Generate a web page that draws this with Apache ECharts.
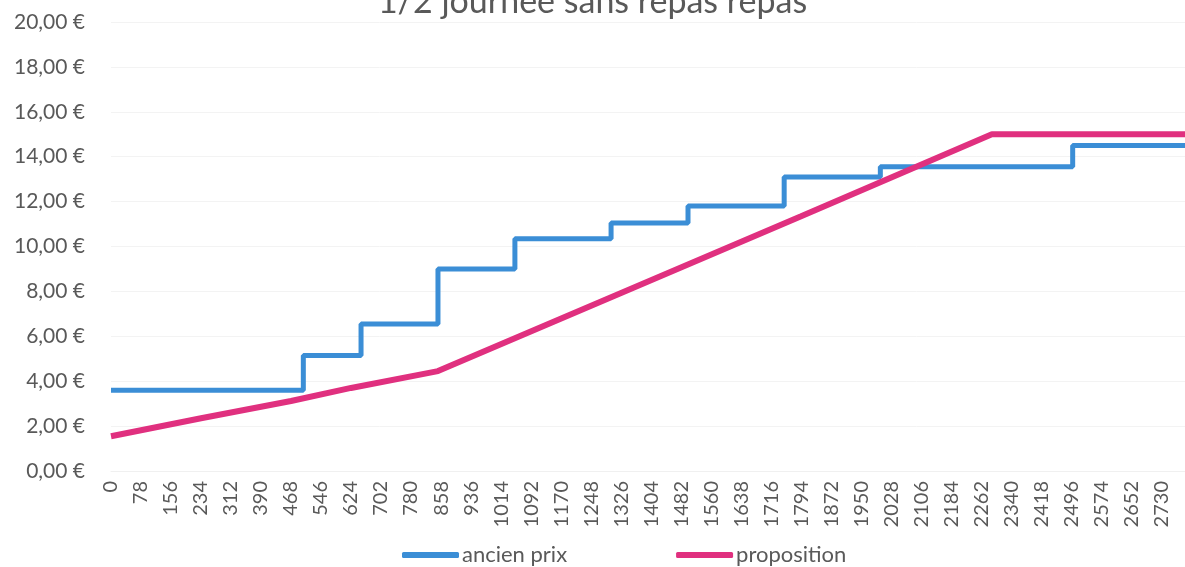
<!DOCTYPE html>
<html>
<head>
<meta charset="utf-8">
<script src="https://cdn.jsdelivr.net/npm/echarts@6/dist/echarts.min.js"></script>
<style>
  html, body { margin: 0; padding: 0; background: #fff; }
  #myChart { width: 1185px; height: 567px; }
</style>
</head>
<body>
<div id="myChart"></div>
<script>
  // ancien prix : paliers (x = début du palier)
  var ancienX = [0, 500, 650, 850, 1050, 1300, 1500, 1750, 2000, 2500, 2808];
  var ancienY = [3.60, 5.15, 6.55, 9.00, 10.35, 11.05, 11.80, 13.10, 13.55, 14.50, 14.50];
  // proposition : points de la courbe
  var propX = [0, 234, 468, 624, 850, 1326, 1794, 2290, 2808];
  var propY = [1.55, 2.35, 3.12, 3.70, 4.45, 7.93, 11.35, 15.00, 15.00];
  var xTickStep = 78;
  var yTicks = [0, 20, 2];

  function pairs(xs, ys) {
    var out = [];
    for (var i = 0; i < xs.length; i++) out.push([xs[i], ys[i]]);
    return out;
  }

  var font = 'Lato, "Liberation Sans", sans-serif';
  var txt = '#595959';

  var myChart = echarts.init(document.getElementById('myChart'));
  var option = {
    backgroundColor: '#fff',
    animation: false,
    title: {
      text: '1/2 journée sans repas repas',
      left: 'center',
      top: -20,
      textStyle: { color: txt, fontFamily: font, fontSize: 34, fontWeight: 'normal' }
    },
    legend: {
      left: 397,
      top: 539,
      itemWidth: 57,
      itemHeight: 6,
      itemGap: 109,
      icon: 'roundRect',
      selectedMode: false,
      textStyle: { color: txt, fontFamily: font, fontSize: 22, padding: [0, 0, 0, -2] }
    },
    grid: { left: 111, right: 0, top: 22, bottom: 96 },
    xAxis: {
      type: 'value',
      min: 0,
      max: 2792,
      interval: xTickStep,
      axisLine: { show: true, lineStyle: { color: '#f0f0f0' } },
      axisTick: { show: false },
      splitLine: { show: false },
      axisLabel: {
        rotate: 90,
        margin: 10,
        showMaxLabel: false,
        color: txt,
        fontFamily: font,
        fontSize: 20,
        formatter: function (v) { return String(v); }
      }
    },
    yAxis: {
      type: 'value',
      min: yTicks[0],
      max: yTicks[1],
      interval: yTicks[2],
      axisLine: { show: false },
      axisTick: { show: false },
      splitLine: { lineStyle: { color: '#f3f3f3', width: 1 } },
      axisLabel: {
        margin: 26,
        color: txt,
        fontFamily: font,
        fontSize: 21,
        formatter: function (v) { return v.toFixed(2).replace('.', ',') + ' €'; }
      }
    },
    series: [{
      name: 'ancien prix',
      type: 'line',
      step: 'end',
      showSymbol: false,
      data: pairs(ancienX, ancienY),
      color: '#3b8ed6',
      lineStyle: { color: '#3b8ed6', width: 5 }
    }, {
      name: 'proposition',
      type: 'line',
      showSymbol: false,
      data: pairs(propX, propY),
      color: '#e0307f',
      lineStyle: { color: '#e0307f', width: 6 }
    }]
  };
  myChart.setOption(option);
</script>
</body>
</html>
